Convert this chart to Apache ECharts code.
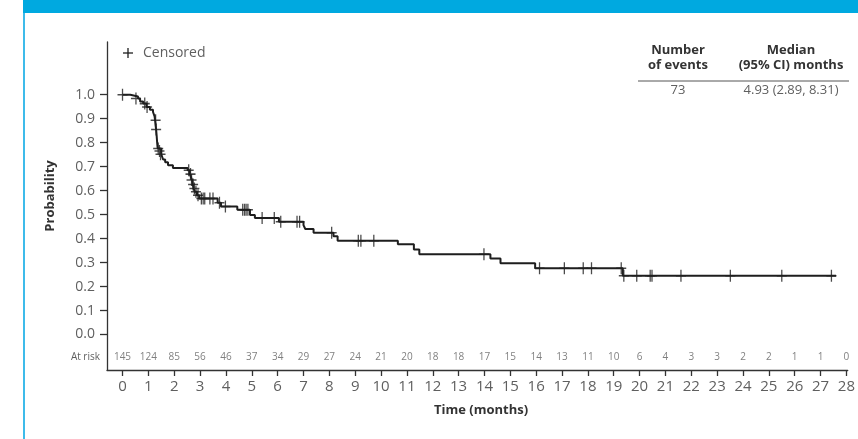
<!DOCTYPE html>
<html>
<head>
<meta charset="utf-8">
<script src="https://cdn.jsdelivr.net/npm/echarts@6/dist/echarts.min.js"></script>
<style>
  html, body { margin: 0; padding: 0; background: #fff; }
  #chart { width: 858px; height: 439px; }
</style>
</head>
<body>
<div id="chart"></div>
<script>
// Kaplan-Meier step points [months, probability]
const kmCurve = [
  [0, 1], [0.3, 0.993], [0.6, 0.984], [0.68, 0.972], [0.8, 0.963], [0.93, 0.949], [1.06, 0.937], [1.18, 0.928],
  [1.24, 0.91], [1.26, 0.894], [1.28, 0.872], [1.3, 0.855], [1.32, 0.83], [1.34, 0.8], [1.36, 0.776],
  [1.5, 0.752], [1.57, 0.73], [1.65, 0.718], [1.76, 0.706], [1.95, 0.695],
  [2.52, 0.685], [2.6, 0.669], [2.65, 0.656], [2.69, 0.644], [2.72, 0.626], [2.75, 0.609], [2.8, 0.595], [2.88, 0.581], [2.97, 0.567],
  [3.68, 0.55], [3.81, 0.534], [4.44, 0.52], [4.93, 0.498], [5.12, 0.486], [6.05, 0.47],
  [7.0, 0.456], [7.07, 0.44], [7.39, 0.424], [8.16, 0.41], [8.32, 0.391], [10.65, 0.376], [11.27, 0.355], [11.48, 0.335],
  [14.23, 0.317], [14.62, 0.297], [15.96, 0.276], [19.35, 0.245], [27.6, 0.245]
]

// censored observations [months, probability]
const censored = [
  [0, 1], [0.52, 0.984], [0.86, 0.963], [0.95, 0.949],
  [1.28, 0.894], [1.3, 0.855], [1.38, 0.776], [1.43, 0.765], [1.47, 0.752],
  [2.56, 0.685], [2.63, 0.669], [2.67, 0.644], [2.73, 0.626], [2.78, 0.609], [2.84, 0.595], [2.92, 0.581],
  [3.05, 0.567], [3.12, 0.567], [3.18, 0.567], [3.38, 0.567], [3.5, 0.567], [3.75, 0.55], [3.98, 0.534],
  [4.65, 0.52], [4.72, 0.52], [4.78, 0.52], [4.85, 0.52], [5.4, 0.486], [5.87, 0.486],
  [6.12, 0.47], [6.75, 0.47], [6.85, 0.47], [8.09, 0.424], [9.12, 0.391], [9.22, 0.391], [9.72, 0.391],
  [13.98, 0.335], [16.13, 0.276], [17.09, 0.276], [17.82, 0.276], [18.14, 0.276], [19.29, 0.276],
  [19.39, 0.245], [19.89, 0.245], [20.41, 0.245], [20.48, 0.245], [21.6, 0.245], [23.51, 0.245], [25.5, 0.245], [27.42, 0.245]
]

const monthTicks = [0, 1, 2, 3, 4, 5, 6, 7, 8, 9, 10, 11, 12, 13, 14, 15, 16, 17, 18, 19, 20, 21, 22, 23, 24, 25, 26, 27, 28]
const probTicks = [0, 0.1, 0.2, 0.3, 0.4, 0.5, 0.6, 0.7, 0.8, 0.9, 1.0]
const atRisk = [145, 124, 85, 56, 46, 37, 34, 29, 27, 24, 21, 20, 18, 18, 17, 15, 14, 13, 11, 10, 6, 4, 3, 3, 2, 2, 1, 1, 0]

const numEvents = '73'
const medianCI = '4.93 (2.89, 8.31)'

const FONT = '"Open Sans", "Noto Sans", sans-serif'
const GRAY = '#5f5f5f'
const INK = '#1e1e1e'

const chart = echarts.init(document.getElementById('chart'))
chart.setOption({
  animation: false,
  textStyle: { fontFamily: FONT },
  grid: { left: 107, right: 6, top: 42, bottom: 69, containLabel: false },
  xAxis: {
    type: 'value',
    position: 'bottom',
    min: -0.6,
    max: 28.05,
    axisLine: { onZero: false, lineStyle: { color: '#333', width: 1.3 } },
    axisTick: { inside: false, customValues: monthTicks, length: 6, lineStyle: { color: '#333', width: 1.3 } },
    axisLabel: { customValues: monthTicks, fontSize: 15, color: GRAY, margin: 9, fontFamily: FONT },
    splitLine: { show: false }
  },
  yAxis: {
    type: 'value',
    position: 'left',
    min: -0.148,
    max: 1.22,
    axisLine: { show: true, onZero: false, lineStyle: { color: '#333', width: 1.3 } },
    axisTick: { show: true, inside: false, customValues: probTicks, length: 7, lineStyle: { color: '#333', width: 1.3 } },
    axisLabel: { inside: false, customValues: probTicks, fontSize: 14, color: GRAY, margin: 12, fontFamily: FONT, formatter: v => v.toFixed(1) },
    splitLine: { show: false }
  },
  series: [
    {
      type: 'line',
      step: 'end',
      data: kmCurve,
      showSymbol: false,
      lineStyle: { color: INK, width: 2 },
      silent: true,
      z: 3
    },
    {
      type: 'scatter',
      data: censored,
      symbol: 'path://M0,5L10,5M5,0L5,10',
      symbolSize: [10, 12],
      itemStyle: { color: 'none', borderColor: INK, borderWidth: 1.4 },
      silent: true,
      z: 4
    },
    {
      // at-risk row
      type: 'scatter',
      data: atRisk.map((n, i) => [monthTicks[i], -0.094, n]),
      symbolSize: 0,
      label: {
        show: true,
        position: 'inside',
        formatter: p => p.data[2],
        fontSize: 10,
        color: GRAY,
        fontFamily: FONT
      },
      silent: true
    }
  ],
  graphic: [
    // banner + frame
    { type: 'rect', shape: { x: 23, y: 0, width: 835, height: 13 }, style: { fill: '#00a9e0' } },
    { type: 'rect', shape: { x: 23, y: 13, width: 2, height: 426 }, style: { fill: '#3dbbea' } },
    // legend
    { type: 'line', shape: { x1: 123, y1: 53, x2: 133, y2: 53 }, style: { stroke: INK, lineWidth: 1.3 } },
    { type: 'line', shape: { x1: 128, y1: 48, x2: 128, y2: 58 }, style: { stroke: INK, lineWidth: 1.3 } },
    { type: 'text', x: 143, y: 53, style: { text: 'Censored', font: '14px ' + FONT, fill: GRAY, verticalAlign: 'middle' } },
    // summary table
    { type: 'text', x: 678, y: 58, style: { text: 'Number\nof events', font: 'bold 13px ' + FONT, fill: '#333', align: 'center', verticalAlign: 'middle', lineHeight: 15 } },
    { type: 'text', x: 791, y: 58, style: { text: 'Median\n(95% CI) months', font: 'bold 13px ' + FONT, fill: '#333', align: 'center', verticalAlign: 'middle', lineHeight: 15 } },
    { type: 'line', shape: { x1: 638, y1: 81, x2: 849, y2: 81 }, style: { stroke: '#555', lineWidth: 1 } },
    { type: 'text', x: 678, y: 90, style: { text: numEvents, font: '13px ' + FONT, fill: GRAY, align: 'center', verticalAlign: 'middle' } },
    { type: 'text', x: 791, y: 90, style: { text: medianCI, font: '13px ' + FONT, fill: GRAY, align: 'center', verticalAlign: 'middle' } },
    // axis titles
    { type: 'text', x: 50, y: 196, rotation: Math.PI / 2, style: { text: 'Probability', font: 'bold 13px ' + FONT, fill: '#333', align: 'center', verticalAlign: 'middle' } },
    { type: 'text', x: 481, y: 410, style: { text: 'Time (months)', font: 'bold 13px ' + FONT, fill: '#333', align: 'center', verticalAlign: 'middle' } },
    { type: 'text', x: 100, y: 357, style: { text: 'At risk', font: '10px ' + FONT, fill: GRAY, align: 'right', verticalAlign: 'middle' } }
  ]
})
</script>
</body>
</html>
